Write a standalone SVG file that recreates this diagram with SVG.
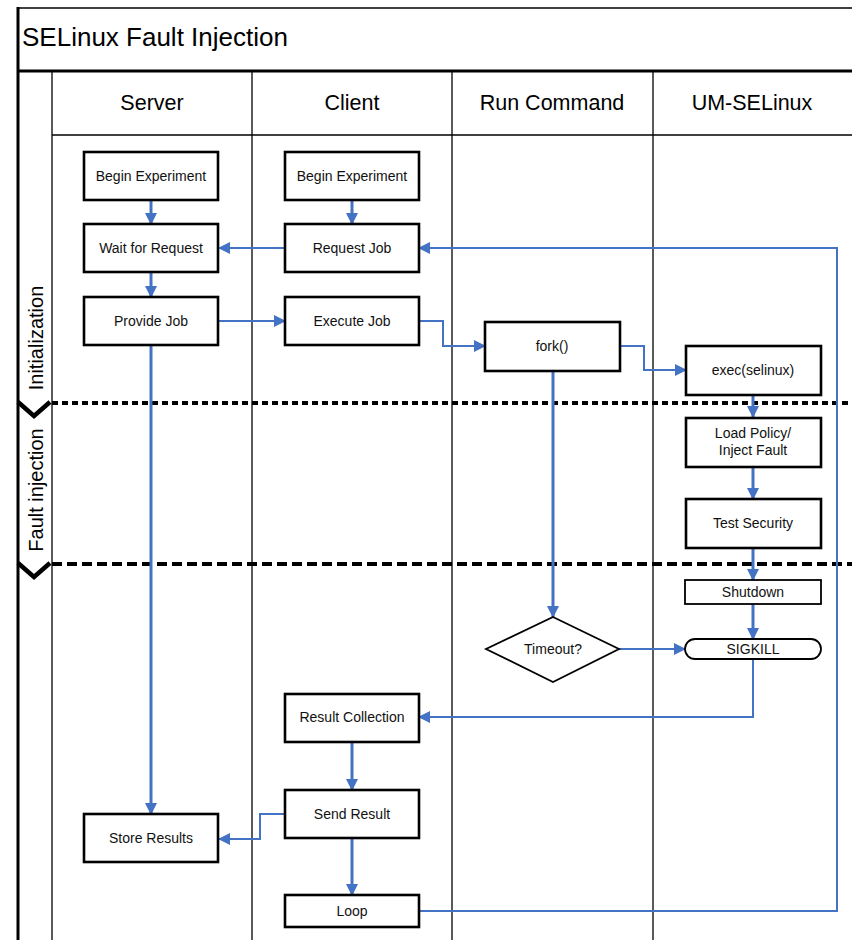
<svg xmlns="http://www.w3.org/2000/svg" width="852" height="940" viewBox="0 0 852 940">
<style>
.frame{stroke:#000;fill:none}
.lane{stroke:#000;stroke-width:1.3;fill:none}
.box{fill:#fff;stroke:#000;stroke-width:2.6}
.thin{fill:#fff;stroke:#000;stroke-width:1.8}
.t{font-family:"Liberation Sans",Arial,sans-serif;font-size:14px;fill:#111;text-anchor:middle}
.h{font-family:"Liberation Sans",Arial,sans-serif;font-size:21.5px;fill:#000;text-anchor:middle}
.ph{font-family:"Liberation Sans",Arial,sans-serif;font-size:20px;fill:#000;text-anchor:middle}
.c{stroke:#4472C4;fill:none;stroke-width:2}
.v{stroke:#4472C4;fill:none;stroke-width:3}
</style>
<defs>
<marker id="a" markerUnits="userSpaceOnUse" markerWidth="12" markerHeight="12" viewBox="0 0 12 12" refX="11" refY="6" orient="auto">
<path d="M0,0 L12,6 L0,12 Z" fill="#4472C4"/>
</marker>
</defs>
<rect width="852" height="940" fill="#fff"/>
<g id="frame">
<line class="frame" x1="18" y1="8" x2="852" y2="8" stroke-width="1.5"/>
<line class="frame" x1="18" y1="7" x2="18" y2="940" stroke-width="3"/>
<line class="frame" x1="18" y1="71" x2="852" y2="71" stroke-width="3"/>
<text x="22" y="46" font-family="Liberation Sans,Arial,sans-serif" font-size="26" fill="#000">SELinux Fault Injection</text>
<line class="lane" x1="52" y1="71" x2="52" y2="940"/>
<line class="lane" x1="252" y1="71" x2="252" y2="940"/>
<line class="lane" x1="452" y1="71" x2="452" y2="940"/>
<line class="lane" x1="653" y1="71" x2="653" y2="940"/>
<line class="lane" x1="52" y1="135" x2="852" y2="135"/>
<text class="h" x="152" y="110">Server</text>
<text class="h" x="352" y="110">Client</text>
<text class="h" x="552" y="110">Run Command</text>
<text class="h" x="752" y="110">UM-SELinux</text>
</g>
<g id="phases">
<line x1="52" y1="403" x2="852" y2="403" stroke="#000" stroke-width="4" stroke-dasharray="6 4"/>
<line x1="52" y1="564" x2="852" y2="564" stroke="#000" stroke-width="4" stroke-dasharray="10 5"/>
<polyline points="18,402 34,416 50,402" fill="none" stroke="#000" stroke-width="4.5"/>
<polyline points="18,563 34,577 50,563" fill="none" stroke="#000" stroke-width="4.5"/>
<text class="ph" transform="translate(43,338) rotate(-90)">Initialization</text>
<text class="ph" transform="translate(43,490) rotate(-90)">Fault injection</text>
</g>
<g id="connectors">
<line class="v" x1="151" y1="200" x2="151" y2="224" marker-end="url(#a)"/>
<line class="v" x1="151" y1="272" x2="151" y2="297" marker-end="url(#a)"/>
<line class="v" x1="352" y1="200" x2="352" y2="224" marker-end="url(#a)"/>
<line class="c" x1="285" y1="248" x2="219" y2="248" stroke-width="2.5" marker-end="url(#a)"/>
<line class="c" x1="219" y1="321" x2="285" y2="321" marker-end="url(#a)"/>
<polyline class="c" points="419,321 443,321 443,346 485,346" marker-end="url(#a)"/>
<polyline class="c" points="620,346 644,346 644,370 686,370" marker-end="url(#a)"/>
<line class="v" x1="753" y1="395" x2="753" y2="417" marker-end="url(#a)"/>
<line class="v" x1="753" y1="467" x2="753" y2="499" marker-end="url(#a)"/>
<line class="v" x1="753" y1="548" x2="753" y2="580" marker-end="url(#a)"/>
<line class="v" x1="753" y1="604" x2="753" y2="639" marker-end="url(#a)"/>
<line class="v" x1="553" y1="371" x2="553" y2="617" marker-end="url(#a)"/>
<line class="c" x1="619" y1="649" x2="685" y2="649" marker-end="url(#a)"/>
<polyline class="c" points="753,659 753,717 419,717" stroke-width="2.5" marker-end="url(#a)"/>
<line class="v" x1="151" y1="345" x2="151" y2="814" marker-end="url(#a)"/>
<line class="v" x1="352" y1="742" x2="352" y2="790" marker-end="url(#a)"/>
<polyline class="c" points="285,814 260,814 260,839 219,839" marker-end="url(#a)"/>
<line class="v" x1="352" y1="838" x2="352" y2="895" marker-end="url(#a)"/>
<polyline class="c" points="419,911 837,911 837,248 419,248" marker-end="url(#a)"/>
</g>
<g id="server-begin"><rect class="box" x="84" y="152" width="134" height="48"/><text class="t" x="151" y="181">Begin Experiment</text></g>
<g id="wait-request"><rect class="box" x="84" y="224" width="134" height="48"/><text class="t" x="151" y="253">Wait for Request</text></g>
<g id="provide-job"><rect class="box" x="84" y="297" width="134" height="48"/><text class="t" x="151" y="326">Provide Job</text></g>
<g id="store-results"><rect class="box" x="84" y="814" width="134" height="48"/><text class="t" x="151" y="843">Store Results</text></g>
<g id="client-begin"><rect class="box" x="285" y="152" width="134" height="48"/><text class="t" x="352" y="181">Begin Experiment</text></g>
<g id="request-job"><rect class="box" x="285" y="224" width="134" height="48"/><text class="t" x="352" y="253">Request Job</text></g>
<g id="execute-job"><rect class="box" x="285" y="297" width="134" height="48"/><text class="t" x="352" y="326">Execute Job</text></g>
<g id="result-collection"><rect class="box" x="285" y="694" width="134" height="48"/><text class="t" x="352" y="722">Result Collection</text></g>
<g id="send-result"><rect class="box" x="285" y="790" width="134" height="48"/><text class="t" x="352" y="819">Send Result</text></g>
<g id="loop"><rect class="box" x="285" y="895" width="134" height="32"/><text class="t" x="352" y="916">Loop</text></g>
<g id="fork"><rect class="box" x="485" y="322" width="135" height="49"/><text class="t" x="552" y="351">fork()</text></g>
<g id="timeout"><polygon class="thin" points="553,617 619,649 553,682 486,649"/><text class="t" x="553" y="654">Timeout?</text></g>
<g id="exec"><rect class="box" x="686" y="346" width="135" height="49"/><text class="t" x="753" y="375">exec(selinux)</text></g>
<g id="load-policy"><rect class="box" x="686" y="418" width="135" height="49"/><text class="t" x="753" y="438">Load Policy/</text><text class="t" x="753" y="455">Inject Fault</text></g>
<g id="test-security"><rect class="box" x="686" y="499" width="135" height="49"/><text class="t" x="753" y="528">Test Security</text></g>
<g id="shutdown"><rect class="thin" x="685" y="580" width="136" height="24"/><text class="t" x="753" y="597">Shutdown</text></g>
<g id="sigkill"><rect class="thin" x="685" y="639" width="136" height="20" rx="10" ry="10"/><text class="t" x="753" y="654">SIGKILL</text></g>
</svg>
